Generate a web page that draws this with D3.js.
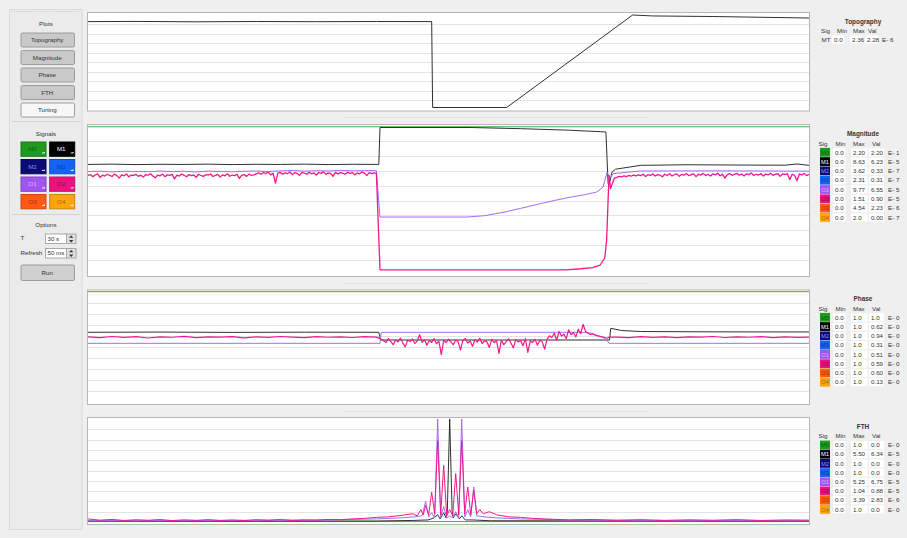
<!DOCTYPE html>
<html>
<head>
<meta charset="utf-8">
<script src="https://cdn.jsdelivr.net/npm/d3@7"></script>
<style>
  body { margin: 0; background: #efefef; }
  svg { display: block; font-family: "Liberation Sans", Arial, sans-serif; }
</style>
</head>
<body>
<div id="app"></div>
<script>
// ---------- data ----------
const plotButtons = ["Topography", "Magnitude", "Phase", "FTH", "Tuning"];
const signals = ["M0", "M1", "M2", "M3", "O1", "O2", "O3", "O4"];
const signalColors = ["#1f9a1f", "#000000", "#0b0b78", "#1463f5", "#9f55ee", "#ee1281", "#ff5a14", "#ffa40a"];
const signalTextColors = ["#0d5f0d", "#ffffff", "#8d8ddc", "#0a3c9c", "#dcbcff", "#8c0a46", "#a32b00", "#a66300"];

const topoMax = "2.36", topoVal = "2.28", topoExp = "6";
const magMax = ["2.20", "8.63", "3.62", "2.31", "9.77", "1.51", "4.54", "2.0"];
const magVal = ["2.20", "6.23", "0.33", "0.31", "6.55", "0.90", "2.23", "0.00"];
const magExp = ["1", "5", "7", "7", "5", "5", "6", "7"];
const phaseMax = ["1.0", "1.0", "1.0", "1.0", "1.0", "1.0", "1.0", "1.0"];
const phaseVal = ["1.0", "0.62", "0.94", "0.31", "0.51", "0.59", "0.60", "0.13"];
const phaseExp = ["0", "0", "0", "0", "0", "0", "0", "0"];
const fthMax = ["1.0", "5.50", "1.0", "1.0", "5.25", "1.04", "3.39", "1.0"];
const fthVal = ["0.0", "6.34", "0.0", "0.0", "6.75", "0.88", "2.83", "0.0"];
const fthExp = ["0", "5", "0", "0", "5", "5", "6", "0"];

// time traces: [seconds, fraction of full scale], window T = 30 s
const topoMT = [[0, 0.93], [2, 0.932], [4.5, 0.928], [7, 0.931], [9.5, 0.929], [12, 0.931], [14.3, 0.93],
  [14.34, 0.02], [17.42, 0.02], [22.66, 1.0], [23.5, 0.99], [26, 0.984], [30, 0.968]];

const magM0 = [[0, 0.995], [30, 0.995]];
const magM1 = [[0, 0.742], [1, 0.744], [2, 0.741], [3, 0.743], [4, 0.742], [5, 0.744], [6, 0.741], [7, 0.743],
  [8, 0.742], [9, 0.744], [10, 0.741], [11, 0.743], [12.1, 0.742], [12.15, 0.99], [15.9, 0.99], [18, 0.982],
  [20, 0.972], [21.55, 0.96], [21.64, 0.615], [21.72, 0.63], [21.8, 0.69], [21.95, 0.71], [22.6, 0.726],
  [23, 0.736], [25, 0.74], [27, 0.738], [29, 0.737], [29.5, 0.745], [30, 0.736]];
// O1 before the step, one sample every 0.5 s
const magO1Pre = [0.694, 0.697, 0.692, 0.696, 0.695, 0.693, 0.698, 0.694, 0.696, 0.692, 0.697, 0.695, 0.693,
  0.696, 0.698, 0.694, 0.699, 0.701, 0.697, 0.700, 0.698, 0.702, 0.699, 0.701, 0.700];
const magO1 = [[12.15, 0.389], [15.76, 0.389], [16.5, 0.398], [17.27, 0.42], [18.0, 0.447], [18.67, 0.473],
  [19.4, 0.5], [20.06, 0.522], [20.7, 0.54], [21.17, 0.557], [21.43, 0.59], [21.6, 0.69], [21.72, 0.649],
  [21.85, 0.68], [22.97, 0.698], [26, 0.699], [30, 0.697]];
// O2 noisy part, one sample every 0.1 s from t = 0
const magO2Pre = [
  0.668, 0.674, 0.660, 0.671, 0.679, 0.655, 0.670, 0.664, 0.676, 0.669,
  0.661, 0.677, 0.667, 0.650, 0.672, 0.666, 0.678, 0.659, 0.671, 0.668,
  0.675, 0.662, 0.670, 0.657, 0.673, 0.669, 0.680, 0.664, 0.652, 0.671,
  0.666, 0.677, 0.660, 0.672, 0.668, 0.675, 0.645, 0.670, 0.664, 0.678,
  0.669, 0.659, 0.674, 0.667, 0.671, 0.656, 0.676, 0.668, 0.662, 0.673,
  0.670, 0.678, 0.661, 0.669, 0.675, 0.658, 0.672, 0.666, 0.679, 0.663,
  0.671, 0.667, 0.676, 0.648, 0.670, 0.674, 0.662, 0.677, 0.668, 0.672,
  0.679, 0.685, 0.676, 0.688, 0.681, 0.690, 0.672, 0.683, 0.617, 0.684,
  0.689, 0.677, 0.686, 0.680, 0.691, 0.674, 0.687, 0.682, 0.669, 0.688,
  0.683, 0.676, 0.690, 0.679, 0.685, 0.671, 0.688, 0.682, 0.692, 0.675,
  0.686, 0.680, 0.663, 0.689, 0.678, 0.687, 0.683, 0.676, 0.690, 0.681,
  0.688, 0.672, 0.685, 0.679, 0.691, 0.684, 0.667, 0.687, 0.680, 0.686, 0.682];
const magO2Mid = [[12.15, 0.035], [19.9, 0.035], [20.5, 0.042], [21.0, 0.05], [21.31, 0.067], [21.5, 0.114],
  [21.58, 0.234], [21.64, 0.5], [21.68, 0.669], [21.74, 0.58], [21.9, 0.649]];
// O2 after the step, one sample every 0.1 s from t = 22
const magO2Post = [
  0.655, 0.662, 0.658, 0.666, 0.660, 0.668, 0.663, 0.671, 0.665, 0.672,
  0.667, 0.676, 0.661, 0.673, 0.669, 0.678, 0.664, 0.674, 0.670, 0.659,
  0.676, 0.668, 0.680, 0.665, 0.673, 0.678, 0.662, 0.675, 0.670, 0.681,
  0.667, 0.674, 0.679, 0.660, 0.676, 0.671, 0.682, 0.668, 0.675, 0.664,
  0.678, 0.672, 0.683, 0.666, 0.677, 0.650, 0.674, 0.680, 0.669, 0.676,
  0.682, 0.670, 0.677, 0.665, 0.679, 0.673, 0.684, 0.668, 0.676, 0.671,
  0.680, 0.664, 0.677, 0.672, 0.683, 0.669, 0.675, 0.681, 0.662, 0.678,
  0.673, 0.680, 0.640, 0.676, 0.669, 0.632, 0.678, 0.672, 0.681, 0.667, 0.675];

const phM0 = [[0, 1], [30, 1]];
const phM1 = [[0, 0.632], [3, 0.634], [6, 0.631], [9, 0.633], [12.1, 0.632], [12.18, 0.562], [21.7, 0.562],
  [21.75, 0.668], [22.2, 0.648], [23, 0.639], [26, 0.636], [30, 0.635]];
const phO1 = [[0, 0.532], [12.15, 0.532], [12.2, 0.632], [20.5, 0.632], [20.89, 0.626], [21.22, 0.603],
  [21.47, 0.58], [21.62, 0.553], [21.68, 0.532], [30, 0.532]];
// every 0.5 s from t = 0
const phO2Pre = [0.590, 0.583, 0.594, 0.586, 0.592, 0.580, 0.591, 0.587, 0.595, 0.584, 0.590, 0.588, 0.593,
  0.582, 0.591, 0.586, 0.594, 0.589, 0.583, 0.592, 0.587, 0.590, 0.585, 0.593, 0.588];
// every 0.1 s from t = 12.2
const phO2Mid = [
  0.570, 0.555, 0.540, 0.575, 0.548, 0.520, 0.562, 0.545, 0.580, 0.535,
  0.500, 0.560, 0.548, 0.572, 0.530, 0.555, 0.610, 0.542, 0.565, 0.515,
  0.558, 0.540, 0.575, 0.528, 0.552, 0.430, 0.560, 0.538, 0.570, 0.545,
  0.520, 0.563, 0.547, 0.470, 0.558, 0.575, 0.535, 0.553, 0.505, 0.566,
  0.542, 0.578, 0.530, 0.556, 0.545, 0.495, 0.568, 0.538, 0.555, 0.440,
  0.560, 0.520, 0.548, 0.572, 0.535, 0.490, 0.565, 0.545, 0.558, 0.510,
  0.575, 0.450, 0.552, 0.540, 0.568, 0.515, 0.560, 0.545, 0.480, 0.570,
  0.600, 0.585, 0.625, 0.560, 0.640, 0.598, 0.615, 0.575, 0.655, 0.610,
  0.630, 0.590, 0.660, 0.620, 0.705, 0.640, 0.625, 0.612, 0.618, 0.605,
  0.600, 0.596, 0.590, 0.585, 0.578];
// every 0.5 s from t = 22
const phO2Post = [0.589, 0.584, 0.592, 0.586, 0.591, 0.583, 0.590, 0.588, 0.594, 0.585, 0.591, 0.587, 0.593,
  0.584, 0.590, 0.586, 0.589];

// FTH spectra: [bin, fraction of full scale], 600 bins across the plot
const fthM0 = [[0, 0.004], [600, 0.004]];
const fthM1 = [[0, 0.01], [240, 0.01], [270, 0.015], [283, 0.02], [288, 0.04], [291, 0.07], [293, 0.03],
  [296, 0.09], [298, 0.04], [299, 0.1], [301, 1.0], [303, 0.1], [304, 0.04], [306, 0.08], [309, 0.03],
  [311, 0.06], [314, 0.02], [320, 0.02], [335, 0.012], [600, 0.01]];
const fthO1 = [[0, 0.012], [100, 0.015], [200, 0.02], [240, 0.03], [260, 0.04], [272, 0.05], [278, 0.06],
  [281, 0.2], [283.5, 0.05], [286, 0.09], [288.5, 0.04], [291, 1.0], [293.5, 0.05], [296, 0.15], [298.5, 0.04],
  [301, 0.06], [303.5, 0.04], [306, 0.1], [308.5, 0.04], [311, 1.0], [313.5, 0.05], [316, 0.12], [318.5, 0.05],
  [321, 0.34], [323.5, 0.06], [330, 0.05], [340, 0.04], [360, 0.03], [400, 0.02], [500, 0.015], [600, 0.012]];
const fthO2 = [[0, 0.03], [10, 0.018], [20, 0.025], [30, 0.015], [40, 0.022], [50, 0.017], [60, 0.024],
  [70, 0.014], [80, 0.021], [90, 0.016], [100, 0.023], [110, 0.015], [120, 0.02], [130, 0.014], [140, 0.022],
  [150, 0.017], [160, 0.024], [170, 0.015], [180, 0.02], [190, 0.018], [200, 0.025], [210, 0.022], [220, 0.03],
  [230, 0.035], [240, 0.045], [250, 0.05], [258, 0.06], [264, 0.07], [270, 0.08], [274, 0.06], [277, 0.12],
  [279, 0.07], [281, 0.16], [283.5, 0.07], [286, 0.29], [288.5, 0.08], [291, 0.79], [293.5, 0.07], [296, 0.55],
  [298.5, 0.06], [301, 0.12], [303.5, 0.06], [306, 0.47], [308.5, 0.07], [311, 0.79], [313.5, 0.08], [316, 0.34],
  [318.5, 0.07], [321, 0.31], [323.5, 0.08], [326, 0.12], [329, 0.08], [334, 0.1], [340, 0.07], [350, 0.05],
  [360, 0.045], [370, 0.035], [380, 0.03], [390, 0.025], [400, 0.02], [420, 0.024], [440, 0.016], [460, 0.022],
  [480, 0.015], [500, 0.021], [520, 0.017], [540, 0.023], [560, 0.015], [580, 0.02], [600, 0.018]];

// ---------- drawing ----------
const W = 907, H = 538;
const traceColor = { green: "#3fae3f", black: "#1a1a1a", purple: "#a46cf2", pink: "#f0198a" };

const svg = d3.select("#app").append("svg").attr("width", W).attr("height", H);
svg.append("rect").attr("width", W).attr("height", H).attr("fill", "#efefef");

// samples taken at a fixed clock
function sampled(t0, dt, vals) {
  return vals.map((v, i) => [t0 + i * dt, v]);
}

// left side control panel
const left = svg.append("g").attr("font-size", 6.2).attr("fill", "#333");
left.append("rect").attr("x", 9.5).attr("y", 9.5).attr("width", 72.5).attr("height", 520)
  .attr("fill", "#ebebeb").attr("stroke", "#dadada");
left.append("line").attr("x1", 11).attr("x2", 80).attr("y1", 11.5).attr("y2", 11.5)
  .attr("stroke", "#c4c4c4").attr("stroke-dasharray", "1,1.5");

function label(g, x, y, txt, anchor) {
  return g.append("text").attr("x", x).attr("y", y).attr("text-anchor", anchor || "middle").text(txt);
}

function button(g, x, y, w, h, txt, fill) {
  g.append("rect").attr("x", x + 0.5).attr("y", y + 0.5).attr("width", w).attr("height", h).attr("rx", 1.5)
    .attr("fill", fill).attr("stroke", "#9c9c9c");
  label(g, x + w / 2, y + h / 2 + 2.6, txt);
}

label(left, 46, 26, "Plots");
plotButtons.forEach((b, i) => {
  button(left, 20.5, 32.5 + i * 17.5, 53.5, 14, b, b === "Tuning" ? "#f7f7f7" : "#c9c9c9");
});
left.append("line").attr("x1", 12).attr("x2", 80).attr("y1", 121.5).attr("y2", 121.5).attr("stroke", "#d2d2d2");

label(left, 46, 136, "Signals");
signals.forEach((s, i) => {
  const x = 20.5 + (i % 2) * 28.7, y = 141.5 + Math.floor(i / 2) * 17.5;
  left.append("rect").attr("x", x + 0.5).attr("y", y + 0.5).attr("width", 25).attr("height", 14.3)
    .attr("fill", signalColors[i]).attr("stroke", d3.color(signalColors[i]).darker(0.6));
  left.append("text").attr("x", x + 12).attr("y", y + 9.7).attr("text-anchor", "middle")
    .attr("fill", signalTextColors[i]).text(s);
  left.append("path").attr("d", `M${x + 21.5},${y + 11.5}h2.5v-1`).attr("stroke", "#fff")
    .attr("stroke-width", 0.9).attr("fill", "none");
});
left.append("line").attr("x1", 12).attr("x2", 80).attr("y1", 214.5).attr("y2", 214.5).attr("stroke", "#d2d2d2");

label(left, 46, 227, "Options");
function spin(y, lab, val) {
  label(left, 20.5, y + 6.8, lab, "start");
  left.append("rect").attr("x", 45.5).attr("y", y + 0.5).attr("width", 21).attr("height", 9.5)
    .attr("fill", "#fff").attr("stroke", "#a8a8a8");
  label(left, 47.5, y + 7.2, val, "start");
  left.append("rect").attr("x", 66.5).attr("y", y + 0.5).attr("width", 9.5).attr("height", 9.5)
    .attr("fill", "#dedede").attr("stroke", "#a8a8a8");
  left.append("path").attr("d", `M69,${y + 4.3}l2.2,-2.4l2.2,2.4z M69,${y + 6.6}l2.2,2.4l2.2,-2.4z`)
    .attr("fill", "#333");
}
spin(233.5, "T", "30 s");
spin(248, "Refresh", "50 ms");
button(left, 20.5, 264.5, 53.5, 15.5, "Run", "#cfcfcf");

// plot panels
const xTime = d3.scaleLinear().domain([0, 30]).range([88, 809]);
const xBin = d3.scaleLinear().domain([0, 600]).range([88, 809]);

function panel(boxTop, boxBottom, plotTop, plotBottom) {
  const g = svg.append("g");
  g.append("rect").attr("x", 87.5).attr("y", boxTop + 0.5).attr("width", 722).attr("height", boxBottom - boxTop)
    .attr("fill", "#fff").attr("stroke", "#b6b6b6");
  const y = d3.scaleLinear().domain([0, 1]).range([plotBottom, plotTop]);
  g.selectAll("line.grid").data(y.ticks(10).filter(t => t > 0 && t < 1)).enter().append("line")
    .attr("class", "grid")
    .attr("x1", 88).attr("x2", 809)
    .attr("y1", d => Math.round(y(d)) + 0.5).attr("y2", d => Math.round(y(d)) + 0.5)
    .attr("stroke", "#e4e4e4");
  return { g, y };
}

function trace(p, x, data, color, width) {
  const line = d3.line().x(d => x(d[0])).y(d => p.y(d[1]));
  p.g.append("path").datum(data).attr("d", line).attr("fill", "none")
    .attr("stroke", color).attr("stroke-width", width || 1).attr("stroke-linejoin", "round");
}

// splitter handles between the panels
[117, 283, 411].forEach(yy => {
  svg.append("line").attr("x1", 345).attr("x2", 650).attr("y1", yy + 0.5).attr("y2", yy + 0.5)
    .attr("stroke", "#cacaca").attr("stroke-dasharray", "1,1.5");
});

// Topography
const pTopo = panel(12, 110.5, 15, 109.4);
trace(pTopo, xTime, topoMT, traceColor.black, 0.9);

// Magnitude
const pMag = panel(124, 276, 126, 275);
trace(pMag, xTime, magM0, traceColor.green);
trace(pMag, xTime, magM1, traceColor.black, 0.9);
trace(pMag, xTime, sampled(0, 0.5, magO1Pre).concat(magO1), traceColor.purple);
trace(pMag, xTime, sampled(0, 0.1, magO2Pre).concat(magO2Mid, sampled(22, 0.1, magO2Post)), traceColor.pink, 1.3);

// Phase
const pPh = panel(289.5, 404, 291.7, 402);
trace(pPh, xTime, phM0, traceColor.green);
trace(pPh, xTime, phM1, traceColor.black, 0.9);
trace(pPh, xTime, phO1, traceColor.purple);
trace(pPh, xTime, sampled(0, 0.5, phO2Pre).concat(sampled(12.2, 0.1, phO2Mid), [[21.7, 0.589]],
  sampled(22, 0.5, phO2Post)), traceColor.pink, 1.2);

// FTH
const pFth = panel(417, 524, 419, 522);
trace(pFth, xBin, fthM0, traceColor.green);
trace(pFth, xBin, fthM1, traceColor.black, 0.9);
trace(pFth, xBin, fthO1, traceColor.purple);
trace(pFth, xBin, fthO2, traceColor.pink);

// right hand tables
const colsWide = { sig: 818.5, minT: 835.5, maxT: 853, valT: 872, sw: 820, minB: 833, maxB: 851, valB: 869, exp: 888,
  minW: 12.5, maxW: 16.5, valW: 15 };

function legend(title, titleY, headY, rowY0, rowStep, labels, maxs, vals, exps, cols, swatches) {
  const g = svg.append("g").attr("font-size", 6.2).attr("fill", "#333");
  g.append("text").attr("x", 863).attr("y", titleY + 2.3).attr("text-anchor", "middle")
    .attr("font-weight", "bold").attr("font-size", 6.4).text(title);
  [["Sig", cols.sig], ["Min", cols.minT], ["Max", cols.maxT], ["Val", cols.valT]].forEach(([t, x]) => {
    g.append("text").attr("x", x).attr("y", headY + 2.2).text(t);
  });
  labels.forEach((lab, i) => {
    const cy = rowY0 + i * rowStep;
    if (swatches) {
      g.append("rect").attr("x", cols.sw).attr("y", cy - 4.4).attr("width", 10).attr("height", 8.8)
        .attr("fill", signalColors[i]);
      g.append("text").attr("x", cols.sw + 5).attr("y", cy + 2.2).attr("text-anchor", "middle")
        .attr("font-size", 5.8).attr("fill", signalTextColors[i]).text(lab);
    } else {
      g.append("text").attr("x", cols.sw).attr("y", cy + 2.2).text(lab);
    }
    [[cols.minB, cols.minW, "0.0"], [cols.maxB, cols.maxW, maxs[i]], [cols.valB, cols.valW, vals[i]]].forEach(([x, w, t]) => {
      g.append("rect").attr("x", x).attr("y", cy - 4).attr("width", w).attr("height", 8).attr("fill", "#fff");
      g.append("text").attr("x", x + 2).attr("y", cy + 2.2).text(t);
    });
    g.append("text").attr("x", cols.exp).attr("y", cy + 2.2).text("E- " + exps[i]);
  });
}

legend("Topography", 21.5, 30.5, 39.5, 9.3, ["MT"], [topoMax], [topoVal], [topoExp],
  { sig: 821, minT: 837, maxT: 853, valT: 868, sw: 821.5, minB: 832, maxB: 850, valB: 865, exp: 882,
    minW: 12, maxW: 12, valW: 13 }, false);
legend("Magnitude", 133.3, 143.3, 152.3, 9.3, signals, magMax, magVal, magExp, colsWide, true);
legend("Phase", 298.3, 308.3, 317.3, 9.28, signals, phaseMax, phaseVal, phaseExp, colsWide, true);
legend("FTH", 426.7, 435.7, 445, 9.2, signals, fthMax, fthVal, fthExp, colsWide, true);
</script>
</body>
</html>
